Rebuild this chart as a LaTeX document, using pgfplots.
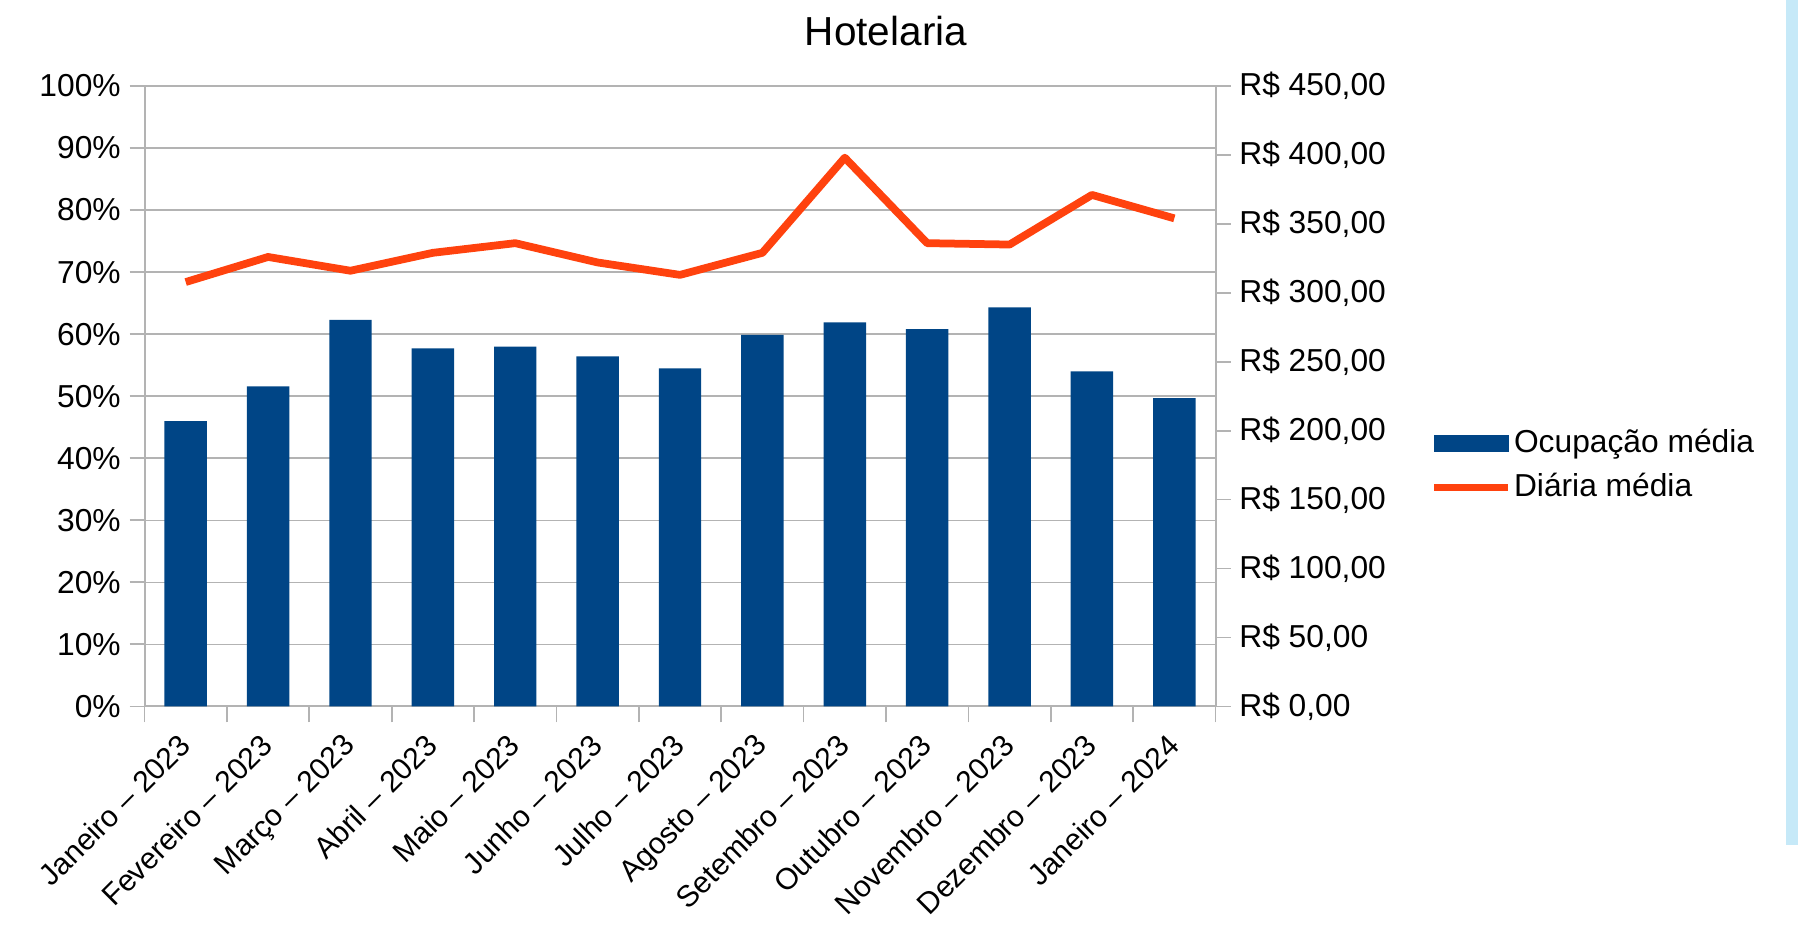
\documentclass[border=0pt]{standalone}
\usepackage{pgfplots}
\pgfplotsset{compat=1.18}
\usepackage{fontspec}
\setmainfont{Liberation Sans}
\definecolor{barblue}{HTML}{004586}
\definecolor{lineorange}{HTML}{FF420E}
\definecolor{gridgray}{HTML}{B3B3B3}
\definecolor{stripblue}{HTML}{C6E9F8}
\newcommand{\tf}{\fontsize{12.7}{15}\selectfont}
\begin{document}
\begin{tikzpicture}[x=0.4pt,y=0.4pt]
\useasboundingbox (0,0) rectangle (1798,928);
\fill[stripblue] (1786,83) rectangle (1798,928);
\node[font=\fontsize{16.2}{19}\selectfont, anchor=base] at (886,882) {Hotelaria};
\pgfplotsset{
  common/.style={
    at={(57.8pt,88.64pt)}, anchor=south west,
    width=428.4pt, height=248.16pt, scale only axis,
    xmin=-0.5, xmax=12.5,
    /pgf/number format/assume math mode=true,
    tick align=outside,
    axis line style={draw=gridgray, line width=0.8pt},
    every tick/.style={draw=gridgray, line width=0.7pt},
    major tick length=6pt, minor tick length=6.4pt,
    tick label style={font=\tf, text=black},
    clip=false,
  }
}
\begin{axis}[common,
  ymin=0, ymax=100,
  axis y line*=left, axis x line*=bottom,
  ytick={0,10,...,100},
  yticklabel={\pgfmathprintnumber{\tick}\%},
  ymajorgrids, grid style={draw=gridgray, line width=0.6pt},
  xtick={0,...,12},
  xticklabels={Janeiro \textendash{} 2023, Fevereiro \textendash{} 2023, Março \textendash{} 2023, Abril \textendash{} 2023, Maio \textendash{} 2023, Junho \textendash{} 2023, Julho \textendash{} 2023, Agosto \textendash{} 2023, Setembro \textendash{} 2023, Outubro \textendash{} 2023, Novembro \textendash{} 2023, Dezembro \textendash{} 2023, Janeiro \textendash{} 2024},
  major x tick style={draw=none},
  minor xtick={-0.5,0.5,...,12.5},
  xticklabel style={rotate=45, anchor=north east, xshift=-2pt, yshift=3pt, font=\fontsize{12}{14}\selectfont},
]
\addplot[ybar, bar width=16.97pt, fill=barblue, draw=none] coordinates {
(0,46.0) (1,51.6) (2,62.3) (3,57.7) (4,58.0) (5,56.4) (6,54.5)
(7,59.9) (8,61.9) (9,60.8) (10,64.3) (11,54.0) (12,49.7)};
\end{axis}
\begin{axis}[common,
  ymin=0, ymax=450,
  axis y line*=right, axis x line=none,
  ytick={0,50,...,450},
  yticklabel={R\$ \pgfmathprintnumber[fixed,fixed zerofill,precision=2,use comma]{\tick}},
  legend style={at={(rel axis cs:1,0.3875)}, anchor=west, xshift=85.8pt,
    draw=none, fill=none, inner sep=0pt, font=\tf, row sep=3.6pt,
    nodes={inner sep=1pt, text height=9.5pt, text depth=2.5pt}},
  legend cell align=left,
]
\addlegendimage{legend image code/.code={\fill[barblue] (0pt,-3.2pt) rectangle (29.6pt,3.2pt);}}
\addlegendentry{Ocupação média}
\addplot[lineorange, line width=3.1pt, line join=round,
  legend image code/.code={\draw[lineorange, line width=2.8pt] (0pt,0pt) -- (29.6pt,0pt);}]
coordinates {
(0,307.8) (1,326) (2,316) (3,329) (4,336) (5,322) (6,313)
(7,329) (8,398) (9,336) (10,335) (11,371) (12,354)};
\addlegendentry{Diária média}
\end{axis}
\end{tikzpicture}
\end{document}
